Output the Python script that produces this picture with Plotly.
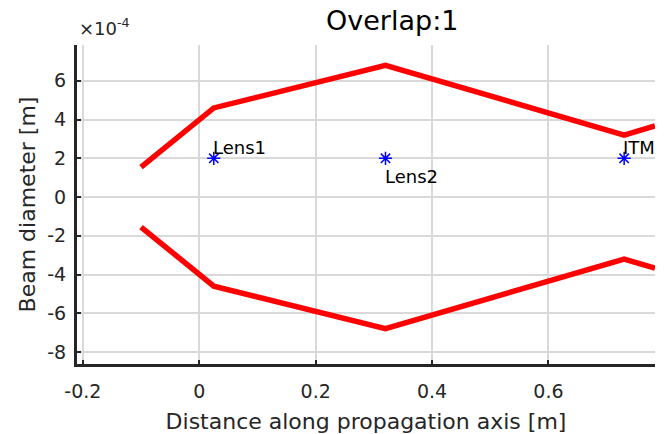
import plotly.graph_objects as go

# Beam envelope (distance [m], diameter [m])
z_pos = [-0.1, 0.025, 0.32, 0.73, 0.783]
upper = [1.55e-4, 4.6e-4, 6.8e-4, 3.2e-4, 3.67e-4]
lower = [-1.55e-4, -4.6e-4, -6.8e-4, -3.2e-4, -3.67e-4]

# Optical elements
elem_names = ["Lens1", "Lens2", "ITM"]
elem_pos = [0.025, 0.32, 0.73]
elem_y = [2e-4, 2e-4, 2e-4]
elem_shift = [11, -18, 11]

x_ticks = [-0.2, 0, 0.2, 0.4, 0.6]
x_tick_text = ["-0.2", "0", "0.2", "0.4", "0.6"]
y_ticks = [-8e-4, -6e-4, -4e-4, -2e-4, 0, 2e-4, 4e-4, 6e-4]
y_tick_text = ["-8", "-6", "-4", "-2", "0", "2", "4", "6"]

FONT = "DejaVu Sans"
TXT = "#262626"

fig = go.Figure()
for yv in (upper, lower):
    fig.add_trace(go.Scatter(x=z_pos, y=yv, mode="lines",
                             line=dict(color="#ff0000", width=5.5),
                             showlegend=False, hoverinfo="skip"))
fig.add_trace(go.Scatter(x=elem_pos, y=elem_y, mode="markers",
                         marker=dict(symbol="asterisk-open", size=11,
                                     color="#0000ff",
                                     line=dict(color="#0000ff", width=1.5)),
                         showlegend=False))
for n, xp, yp, s in zip(elem_names, elem_pos, elem_y, elem_shift):
    fig.add_annotation(x=xp, y=yp, text=n, showarrow=False,
                       xanchor="left", yanchor="middle", xshift=-3, yshift=s,
                       font=dict(family=FONT, size=18, color="#000000"))

fig.add_annotation(xref="paper", yref="paper", x=0.0, y=1.0, yshift=4,
                   text="×10<sup>-4</sup>", showarrow=False,
                   xanchor="left", yanchor="bottom",
                   font=dict(family=FONT, size=18, color=TXT))

fig.add_annotation(xref="paper", yref="paper", x=0.545, y=1.0, yshift=25,
                   text="Overlap:1", showarrow=False,
                   xanchor="center", yanchor="middle",
                   font=dict(family=FONT, size=27, color="#000000"))

fig.update_layout(
    width=668, height=434,
    margin=dict(l=77, r=13, t=45, b=70),
    plot_bgcolor="white", paper_bgcolor="white",
    font=dict(family=FONT, color=TXT),
)
fig.update_xaxes(range=[-0.21, 0.783], tickvals=x_ticks, ticktext=x_tick_text,
                 automargin=False,
                 showgrid=True, gridcolor="#d9d9d9", gridwidth=2,
                 showline=True, linecolor="#262626", linewidth=3,
                 ticks="inside", ticklen=4, tickwidth=2, tickcolor="#262626",
                 ticklabelstandoff=8,
                 zeroline=False, tickfont=dict(size=19, color=TXT),
                 title=dict(text="Distance along propagation axis [m]",
                            font=dict(size=22, color=TXT), standoff=14))
fig.update_yaxes(range=[-8.62e-4, 7.85e-4], tickvals=y_ticks, ticktext=y_tick_text,
                 automargin=False,
                 showgrid=True, gridcolor="#d9d9d9", gridwidth=2,
                 showline=True, linecolor="#262626", linewidth=3,
                 ticks="inside", ticklen=4, tickwidth=2, tickcolor="#262626",
                 ticklabelstandoff=4,
                 zeroline=False, tickfont=dict(size=19, color=TXT),
                 title=dict(text="Beam diameter [m]",
                            font=dict(size=22, color=TXT), standoff=6))

fig.write_html("out.html", config={"displayModeBar": False},
               post_script="document.body.style.margin='0';document.body.style.padding='0';")
